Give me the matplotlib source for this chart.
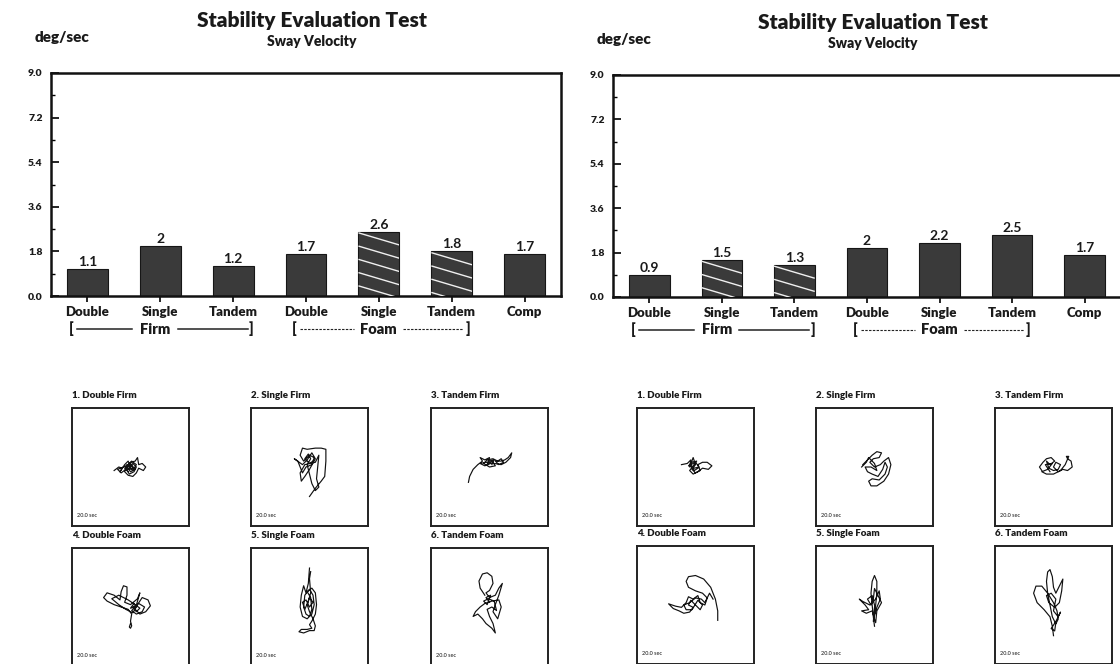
import matplotlib
matplotlib.use('Agg')
import matplotlib.pyplot as plt
import numpy as np
from matplotlib.transforms import blended_transform_factory
from matplotlib.ticker import MultipleLocator

plt.rcParams['font.family'] = ['Lato', 'DejaVu Sans']

# ---------------- data ----------------
categories = ['Double', 'Single', 'Tandem', 'Double', 'Single', 'Tandem', 'Comp']
values_a = [1.1, 2, 1.2, 1.7, 2.6, 1.8, 1.7]
values_b = [0.9, 1.5, 1.3, 2, 2.2, 2.5, 1.7]
hatched_a = [False, False, False, False, True, True, False]
hatched_b = [False, True, True, False, False, False, False]
y_ticks = [0.0, 1.8, 3.6, 5.4, 7.2, 9.0]
trace_titles = ['1. Double Firm', '2. Single Firm', '3. Tandem Firm',
                '4. Double Foam', '5. Single Foam', '6. Tandem Foam']
trace_time = '20.0 sec'

# sway traces (box-relative coordinates, 0..1)
a_double_firm = [(0.36,0.47),(0.40,0.50),(0.43,0.49),(0.41,0.46),(0.45,0.52),(0.48,0.55),(0.50,0.50),(0.47,0.47),
    (0.52,0.53),(0.55,0.50),(0.53,0.46),(0.49,0.44),(0.46,0.49),(0.50,0.54),(0.54,0.55),(0.56,0.58),(0.57,0.52),
    (0.60,0.53),(0.63,0.50),(0.61,0.47),(0.57,0.49),(0.55,0.45),(0.52,0.42),(0.48,0.43),(0.45,0.46),(0.47,0.52),
    (0.51,0.51),(0.49,0.48),(0.53,0.49),(0.50,0.53),(0.44,0.50),(0.39,0.48),(0.42,0.45),(0.46,0.48),(0.48,0.51),
    (0.52,0.47),(0.55,0.52),(0.51,0.55),(0.47,0.50),(0.50,0.46),(0.54,0.48),(0.49,0.52),(0.45,0.49),(0.48,0.46)]
a_single_firm = [(0.50,0.25),(0.55,0.32),(0.60,0.38),(0.63,0.42),(0.64,0.55),(0.64,0.65),(0.60,0.66),(0.55,0.66),
    (0.48,0.65),(0.44,0.66),(0.42,0.60),(0.45,0.55),(0.50,0.60),(0.54,0.58),(0.52,0.52),(0.47,0.50),(0.44,0.45),
    (0.40,0.55),(0.37,0.57),(0.44,0.52),(0.48,0.56),(0.52,0.62),(0.55,0.57),(0.50,0.48),(0.46,0.42),(0.43,0.38),
    (0.42,0.45),(0.46,0.52),(0.55,0.54),(0.58,0.60),(0.57,0.50),(0.56,0.40),(0.58,0.33),(0.55,0.30),(0.52,0.36),
    (0.50,0.44),(0.48,0.52),(0.51,0.57),(0.49,0.61),(0.46,0.57),(0.50,0.53),(0.53,0.55)]
a_tandem_firm = [(0.32,0.37),(0.33,0.42),(0.36,0.48),(0.40,0.52),(0.44,0.55),(0.42,0.58),(0.46,0.56),(0.50,0.58),
    (0.48,0.52),(0.52,0.55),(0.55,0.51),(0.50,0.50),(0.45,0.53),(0.48,0.56),(0.53,0.57),(0.57,0.55),(0.60,0.57),
    (0.62,0.54),(0.58,0.52),(0.55,0.55),(0.60,0.55),(0.63,0.56),(0.66,0.58),(0.69,0.62),(0.68,0.58),(0.64,0.54),
    (0.60,0.52),(0.54,0.53),(0.47,0.54),(0.42,0.53),(0.46,0.51),(0.51,0.53),(0.49,0.55),(0.54,0.56),(0.52,0.52)]
a_double_foam = [(0.50,0.36),(0.49,0.33),(0.50,0.32),(0.51,0.34),(0.50,0.38),(0.51,0.44),(0.48,0.48),(0.42,0.50),
    (0.36,0.52),(0.30,0.55),(0.27,0.58),(0.30,0.62),(0.36,0.60),(0.41,0.56),(0.42,0.63),(0.44,0.68),(0.47,0.67),
    (0.47,0.60),(0.45,0.54),(0.50,0.52),(0.56,0.57),(0.58,0.62),(0.56,0.55),(0.54,0.48),(0.58,0.44),(0.63,0.46),
    (0.67,0.51),(0.65,0.56),(0.60,0.58),(0.56,0.52),(0.52,0.45),(0.46,0.48),(0.40,0.52),(0.34,0.57),(0.40,0.60),
    (0.48,0.56),(0.54,0.52),(0.58,0.49),(0.55,0.46),(0.52,0.50),(0.57,0.53),(0.62,0.50),(0.60,0.46),(0.55,0.44),
    (0.51,0.47),(0.54,0.50),(0.50,0.49),(0.53,0.53)]
a_single_foam = [(0.50,0.83),(0.49,0.70),(0.47,0.62),(0.45,0.68),(0.43,0.60),(0.42,0.50),(0.44,0.42),(0.48,0.40),
    (0.52,0.44),(0.54,0.52),(0.53,0.60),(0.50,0.65),(0.46,0.60),(0.45,0.50),(0.47,0.44),(0.50,0.42),(0.52,0.48),
    (0.51,0.58),(0.48,0.63),(0.52,0.66),(0.55,0.62),(0.56,0.52),(0.55,0.44),(0.52,0.38),(0.50,0.35),(0.52,0.32),
    (0.48,0.31),(0.43,0.31),(0.41,0.29),(0.45,0.28),(0.50,0.30),(0.54,0.30),(0.55,0.34),(0.53,0.40),(0.50,0.46),
    (0.48,0.52),(0.50,0.58),(0.53,0.54),(0.50,0.50),(0.47,0.56),(0.44,0.54),(0.46,0.48),(0.49,0.55),(0.51,0.62),
    (0.50,0.74),(0.51,0.80)]
a_tandem_foam = [(0.46,0.60),(0.42,0.66),(0.41,0.72),(0.44,0.78),(0.48,0.79),(0.52,0.76),(0.53,0.70),(0.50,0.64),
    (0.47,0.62),(0.50,0.58),(0.55,0.60),(0.58,0.66),(0.61,0.70),(0.58,0.60),(0.55,0.52),(0.53,0.46),(0.57,0.40),
    (0.60,0.50),(0.58,0.56),(0.52,0.55),(0.46,0.53),(0.42,0.50),(0.38,0.46),(0.36,0.42),(0.40,0.44),(0.44,0.40),
    (0.47,0.36),(0.52,0.32),(0.55,0.28),(0.53,0.36),(0.50,0.42),(0.48,0.48),(0.52,0.50),(0.56,0.47),(0.54,0.55),
    (0.49,0.57),(0.45,0.55),(0.48,0.52),(0.51,0.60),(0.47,0.58),(0.50,0.54)]

b_double_firm = [(0.38,0.52),(0.43,0.53),(0.46,0.56),(0.45,0.50),(0.48,0.58),(0.50,0.52),(0.47,0.48),(0.50,0.45),
    (0.54,0.47),(0.52,0.52),(0.56,0.54),(0.60,0.54),(0.64,0.51),(0.61,0.48),(0.56,0.49),(0.52,0.46),(0.48,0.44),
    (0.45,0.47),(0.48,0.51),(0.51,0.55),(0.47,0.54),(0.44,0.51),(0.49,0.49),(0.53,0.50),(0.50,0.54),(0.46,0.52),
    (0.49,0.47),(0.52,0.49)]
b_single_firm = [(0.40,0.52),(0.44,0.56),(0.48,0.60),(0.52,0.63),(0.56,0.62),(0.54,0.58),(0.49,0.57),(0.46,0.54),
    (0.50,0.50),(0.55,0.52),(0.58,0.55),(0.62,0.58),(0.64,0.52),(0.62,0.44),(0.58,0.38),(0.52,0.34),(0.47,0.34),
    (0.45,0.38),(0.48,0.40),(0.54,0.39),(0.59,0.44),(0.61,0.50),(0.59,0.54),(0.57,0.48),(0.53,0.42),(0.48,0.44),
    (0.44,0.46),(0.42,0.50),(0.47,0.50),(0.52,0.47),(0.50,0.53),(0.45,0.58),(0.43,0.54),(0.39,0.50)]
b_tandem_firm = [(0.40,0.47),(0.38,0.50),(0.41,0.54),(0.44,0.57),(0.48,0.58),(0.51,0.55),(0.47,0.52),(0.44,0.55),
    (0.46,0.49),(0.50,0.47),(0.54,0.48),(0.56,0.52),(0.52,0.54),(0.50,0.50),(0.54,0.46),(0.58,0.48),(0.62,0.47),
    (0.66,0.50),(0.65,0.55),(0.62,0.57),(0.61,0.59),(0.63,0.59),(0.60,0.52),(0.56,0.47),(0.50,0.44),(0.44,0.44),
    (0.40,0.46),(0.45,0.48),(0.49,0.53),(0.43,0.52),(0.47,0.46)]
b_double_foam = [(0.69,0.37),(0.69,0.45),(0.67,0.55),(0.63,0.65),(0.57,0.72),(0.50,0.75),(0.44,0.74),(0.42,0.70),
    (0.44,0.65),(0.50,0.62),(0.56,0.60),(0.60,0.56),(0.58,0.50),(0.54,0.52),(0.52,0.58),(0.48,0.55),(0.44,0.57),
    (0.42,0.52),(0.38,0.48),(0.33,0.49),(0.27,0.51),(0.31,0.47),(0.36,0.45),(0.40,0.43),(0.45,0.44),(0.48,0.48),
    (0.44,0.50),(0.46,0.54),(0.50,0.50),(0.54,0.46),(0.56,0.50),(0.52,0.54),(0.47,0.46),(0.42,0.46),(0.40,0.50),
    (0.45,0.52),(0.50,0.56),(0.55,0.55),(0.58,0.52),(0.62,0.60),(0.65,0.55)]
b_single_foam = [(0.50,0.32),(0.49,0.40),(0.48,0.50),(0.47,0.60),(0.48,0.70),(0.50,0.75),(0.52,0.70),(0.52,0.60),
    (0.51,0.50),(0.50,0.42),(0.52,0.48),(0.55,0.55),(0.54,0.62),(0.51,0.55),(0.46,0.50),(0.40,0.53),(0.37,0.55),
    (0.42,0.50),(0.45,0.46),(0.39,0.45),(0.43,0.43),(0.48,0.45),(0.50,0.38),(0.51,0.35),(0.52,0.45),(0.56,0.52),
    (0.53,0.58),(0.50,0.64),(0.49,0.55),(0.47,0.50),(0.44,0.55),(0.48,0.58),(0.51,0.46),(0.49,0.36),(0.50,0.48)]
b_tandem_foam = [(0.50,0.24),(0.49,0.32),(0.47,0.40),(0.42,0.46),(0.36,0.52),(0.33,0.60),(0.35,0.66),(0.40,0.66),
    (0.45,0.60),(0.50,0.52),(0.53,0.45),(0.54,0.38),(0.52,0.34),(0.49,0.40),(0.47,0.50),(0.45,0.60),(0.44,0.70),
    (0.45,0.78),(0.47,0.80),(0.49,0.74),(0.50,0.65),(0.52,0.60),(0.55,0.66),(0.58,0.72),(0.57,0.62),(0.55,0.52),
    (0.51,0.48),(0.46,0.52),(0.44,0.58),(0.48,0.60),(0.52,0.55),(0.50,0.45),(0.54,0.40),(0.56,0.44),(0.52,0.36),
    (0.48,0.30),(0.51,0.28),(0.52,0.35)]

traces_a = [a_double_firm, a_single_firm, a_tandem_firm, a_double_foam, a_single_foam, a_tandem_foam]
traces_b = [b_double_firm, b_single_firm, b_tandem_firm, b_double_foam, b_single_foam, b_tandem_foam]

# ---------------- layout ----------------
W, H = 1120, 664
fig = plt.figure(figsize=(W / 100, H / 100), dpi=100)
TXT = '#1a1a1a'


def fax(x, ytop, w, h):
    return fig.add_axes([x / W, 1 - (ytop + h) / H, w / W, h / H])


def ftext(x, y, s, **kw):
    fig.text(x / W, 1 - y / H, s, color=TXT, **kw)


def bar_panel(x0, ytop, x1, ybot, values, hatched, cx, dy):
    ax = fax(x0, ytop, x1 - x0, ybot - ytop)
    xs = np.arange(len(categories))
    bars = ax.bar(xs, values, width=0.56, color='#3a3a3a', edgecolor='#161616',
                  linewidth=0.8, zorder=2)
    ax.set_xlim(-0.5, 6.5)
    ax.set_ylim(0, 9)
    for sp in ax.spines.values():
        sp.set_linewidth(1.8)
        sp.set_color('#111111')
    ax.set_yticks(y_ticks)
    ax.set_yticklabels([f'{t:.1f}' for t in y_ticks], fontweight='heavy', color=TXT)
    ax.yaxis.set_minor_locator(MultipleLocator(0.9))
    ax.tick_params(axis='y', which='major', direction='in', length=6, width=1.2,
                   labelsize=7.5, pad=6)
    ax.tick_params(axis='y', which='minor', direction='in', length=3, width=1.0)
    ax.set_xticks(xs)
    ax.set_xticklabels(categories, fontweight='heavy', color=TXT)
    ax.tick_params(axis='x', direction='out', length=4, width=1.2, labelsize=9.5, pad=3)
    for b, v, hf in zip(bars, values, hatched):
        ax.text(b.get_x() + b.get_width() / 2, v + 0.04, f'{v:g}', ha='center',
                va='bottom', fontsize=10, fontweight='bold', color=TXT)
        if hf:
            xl, wb = b.get_x(), b.get_width()
            m = -0.874
            y0 = v - 0.05
            while y0 > 0:
                ln, = ax.plot([xl, xl + wb], [y0, y0 + m * wb], color='#f0f0f0',
                              lw=1.0, zorder=3, solid_capstyle='butt')
                ln.set_clip_path(b)
                y0 -= 0.535
    tr = blended_transform_factory(ax.transData, ax.transAxes)
    yb = -0.148
    kw = dict(transform=tr, ha='center', va='center', fontsize=10.5, color=TXT,
              fontweight='heavy', clip_on=False)
    ax.text(-0.22, yb, '[', **kw)
    ax.text(2.25, yb, ']', **kw)
    ax.text(0.93, yb, 'Firm', **kw)
    ax.text(2.84, yb, '[', **kw)
    ax.text(5.22, yb, ']', **kw)
    ax.text(4.0, yb, 'Foam', **kw)
    lkw = dict(transform=tr, color='#222222', clip_on=False)
    ax.plot([-0.14, 0.61], [yb, yb], lw=1.1, **lkw)
    ax.plot([1.24, 2.20], [yb, yb], lw=1.1, **lkw)
    ax.plot([2.92, 3.66], [yb, yb], lw=0.8, ls=(0, (2.2, 1.2)), **lkw)
    ax.plot([4.33, 5.16], [yb, yb], lw=0.8, ls=(0, (2.2, 1.2)), **lkw)
    # titles
    ftext(cx, 20 + dy, 'Stability Evaluation Test', ha='center', va='center',
          fontsize=15, fontweight='heavy')
    ftext(x0 - 16, 38 + dy, 'deg/sec', ha='left', va='center', fontsize=11,
          fontweight='heavy')
    ftext(cx, 41 + dy, 'Sway Velocity', ha='center', va='center', fontsize=10,
          fontweight='heavy')
    return ax


def sway_panel(cols, rows, traces):
    k = 0
    for r in rows:
        for c in cols:
            ax = fax(c, r, 117, 118)
            ax.set_xlim(0, 1)
            ax.set_ylim(0, 1)
            ax.set_xticks([])
            ax.set_yticks([])
            for sp in ax.spines.values():
                sp.set_linewidth(1.4)
                sp.set_color('#222222')
            pts = np.array(traces[k])
            ax.plot(pts[:, 0], pts[:, 1], color='#111111', lw=0.85,
                    solid_joinstyle='round')
            ax.text(0.0, 1.07, trace_titles[k], transform=ax.transAxes, ha='left',
                    va='bottom', fontsize=7, fontweight='heavy', color=TXT)
            ax.text(0.04, 0.09, trace_time, transform=ax.transAxes, ha='left',
                    va='center', fontsize=4, fontweight='semibold', color='#333333')
            k += 1


bar_panel(51, 73, 561, 296, values_a, hatched_a, 312, 0)
bar_panel(613, 75, 1121, 297, values_b, hatched_b, 873, 2)
sway_panel([72, 251, 431], [408, 548], traces_a)
sway_panel([637, 816, 995], [408, 546], traces_b)

fig.savefig('out.png', dpi=100, facecolor='white')
